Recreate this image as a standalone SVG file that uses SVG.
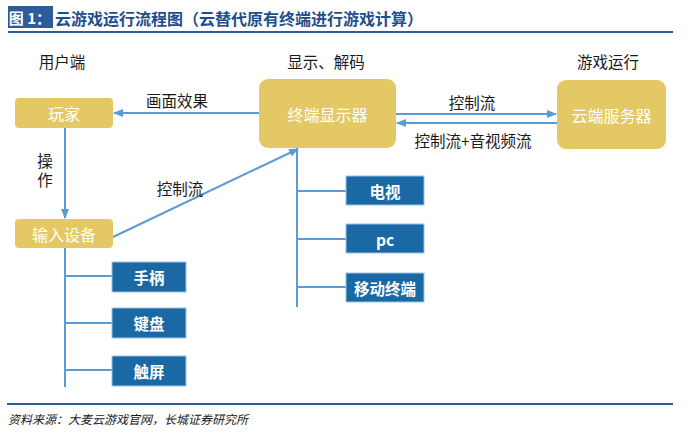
<svg xmlns="http://www.w3.org/2000/svg" width="696" height="438" viewBox="0 0 696 438">
<style>
text{font-family:"Noto Sans CJK SC","Noto Sans",sans-serif}
.gold{fill:#E5C866}
.gt{fill:#ffffff;font-size:16px;text-anchor:middle;dominant-baseline:central}
.blue{fill:#1A69A4;stroke:#9CC3E6;stroke-width:1}
.bt{fill:#ffffff;font-size:15.5px;font-weight:bold;text-anchor:middle;dominant-baseline:central}
.lbl{fill:#1a1a1a;font-size:15.5px;text-anchor:middle;dominant-baseline:central}
.ln{stroke:#5B9BD5;stroke-width:2;fill:none}
</style>
<defs>
<marker id="ah" viewBox="0 0 10 10" refX="9" refY="5" markerWidth="5" markerHeight="5" orient="auto" markerUnits="strokeWidth">
<path d="M0,1 L10,5 L0,9 Z" fill="#5B9BD5"/>
</marker>
</defs>
<rect width="696" height="438" fill="#ffffff"/>
<g id="title">
<rect x="8" y="6" width="45" height="22" fill="#2E5C9A"/>
<text x="30" y="17.5" fill="#ffffff" font-size="15" font-weight="bold" text-anchor="middle" dominant-baseline="central">图 1：</text>
<text x="55" y="17.5" fill="#1F4E8C" font-size="16" font-weight="bold" dominant-baseline="central">云游戏运行流程图（云替代原有终端进行游戏计算）</text>
<line x1="8" y1="32" x2="673" y2="32" stroke="#2E5C9A" stroke-width="2"/>
</g>
<g id="sections">
<text class="lbl" x="62" y="61">用户端</text>
<text class="lbl" x="326" y="61">显示、解码</text>
<text class="lbl" x="608" y="61">游戏运行</text>
</g>
<g id="connectors">
<line class="ln" x1="259" y1="113" x2="114" y2="113" marker-end="url(#ah)"/>
<line class="ln" x1="65" y1="128" x2="65" y2="218" marker-end="url(#ah)"/>
<line class="ln" x1="113" y1="237" x2="298" y2="149" marker-end="url(#ah)"/>
<line class="ln" x1="396" y1="114" x2="556" y2="114" marker-end="url(#ah)"/>
<line class="ln" x1="557" y1="123" x2="397" y2="123" marker-end="url(#ah)"/>
<line class="ln" x1="297" y1="148" x2="297" y2="307"/>
<line class="ln" x1="297" y1="191" x2="346" y2="191"/>
<line class="ln" x1="297" y1="239" x2="346" y2="239"/>
<line class="ln" x1="297" y1="287" x2="346" y2="287"/>
<line class="ln" x1="65" y1="248" x2="65" y2="387"/>
<line class="ln" x1="65" y1="276" x2="112" y2="276"/>
<line class="ln" x1="65" y1="323" x2="112" y2="323"/>
<line class="ln" x1="65" y1="370" x2="112" y2="370"/>
<text class="lbl" x="177" y="100">画面效果</text>
<text x="45" y="172" fill="#1a1a1a" font-size="15.5" writing-mode="vertical-rl" text-anchor="middle" letter-spacing="3">操作</text>
<text class="lbl" x="180" y="188">控制流</text>
<text class="lbl" x="472" y="102">控制流</text>
<text class="lbl" x="473" y="140">控制流+音视频流</text>
</g>
<g id="n-player"><rect class="gold" x="15" y="98" width="98" height="30" rx="4"/><text class="gt" x="64" y="113">玩家</text></g>
<g id="n-input"><rect class="gold" x="15" y="219" width="98" height="29" rx="4"/><text class="gt" x="64" y="233.5">输入设备</text></g>
<g id="n-terminal"><rect class="gold" x="259" y="79" width="137" height="69" rx="9"/><text class="gt" x="327.5" y="113.5">终端显示器</text></g>
<g id="n-cloud"><rect class="gold" x="557" y="80" width="109" height="69" rx="9"/><text class="gt" x="611.5" y="114.5">云端服务器</text></g>
<g id="n-tv"><rect class="blue" x="346" y="176" width="78" height="29"/><text class="bt" x="385" y="190.5">电视</text></g>
<g id="n-pc"><rect class="blue" x="346" y="224" width="78" height="29"/><text class="bt" x="385" y="238.5">pc</text></g>
<g id="n-mobile"><rect class="blue" x="346" y="273" width="78" height="29"/><text class="bt" x="385" y="287.5">移动终端</text></g>
<g id="n-pad"><rect class="blue" x="112" y="262" width="74" height="30"/><text class="bt" x="149" y="277">手柄</text></g>
<g id="n-kb"><rect class="blue" x="112" y="308" width="74" height="30"/><text class="bt" x="149" y="323">键盘</text></g>
<g id="n-touch"><rect class="blue" x="112" y="356" width="74" height="30"/><text class="bt" x="149" y="371">触屏</text></g>
<g id="footer">
<line x1="7" y1="404" x2="673" y2="404" stroke="#2E5C9A" stroke-width="2"/>
<text x="8" y="418" fill="#1a1a1a" font-size="12" font-style="italic" dominant-baseline="central">资料来源：大麦云游戏官网，长城证券研究所</text>
</g>
</svg>
